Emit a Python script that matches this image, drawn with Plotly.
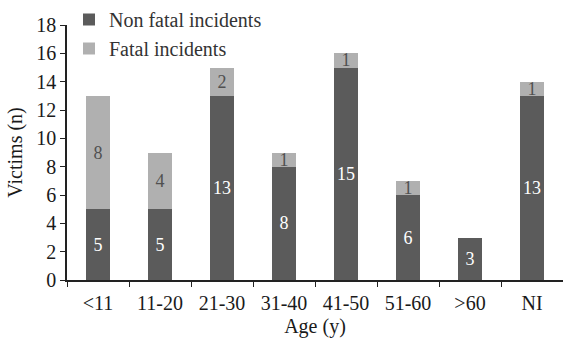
import plotly.graph_objects as go

categories = ["<11", "11-20", "21-30", "31-40", "41-50", "51-60", ">60", "NI"]
non_fatal = [5, 5, 13, 8, 15, 6, 3, 13]
fatal = [8, 4, 2, 1, 1, 1, 0, 1]
y_ticks = [0, 2, 4, 6, 8, 10, 12, 14, 16, 18]

dark = "#5b5b5b"
light = "#b0b0b0"
font_family = "Times New Roman"

fig = go.Figure()
fig.add_trace(go.Bar(
    x=categories, y=non_fatal, name="Non fatal incidents",
    marker=dict(color=dark, line=dict(width=0)),
    text=[str(v) for v in non_fatal], textposition="inside", textangle=0,
    insidetextanchor="middle", constraintext="none",
    textfont=dict(color="white", size=18, family=font_family),
))
fig.add_trace(go.Bar(
    x=categories, y=fatal, name="Fatal incidents",
    marker=dict(color=light, line=dict(width=0)),
    text=[str(v) if v else "" for v in fatal], textposition="inside", textangle=0,
    insidetextanchor="middle", constraintext="none",
    textfont=dict(color="#505050", size=18, family=font_family),
))

fig.update_layout(
    barmode="stack", bargap=0.61,
    width=563, height=344,
    margin=dict(l=67, r=0, t=20, b=64, pad=0),
    paper_bgcolor="white", plot_bgcolor="white",
    font=dict(family=font_family, size=20, color="#1a1a1a"),
    showlegend=True,
    legend=dict(x=0.004, y=1.1, xanchor="left", yanchor="top",
                bgcolor="rgba(0,0,0,0)", font=dict(size=20, color="#333333"),
                traceorder="normal", itemwidth=30, tracegroupgap=5),
    uniformtext=dict(mode=False),
)
fig.update_xaxes(
    showline=True, linecolor="#222222", linewidth=1.5,
    ticks="outside", tickson="boundaries", ticklen=5, tickcolor="#222222",
    ticklabelstandoff=4,
    title=dict(text="Age (y)", standoff=6, font=dict(size=20)),
    tickfont=dict(size=20), showgrid=False, automargin=False,
)
fig.update_yaxes(
    range=[0, 18], tickvals=y_ticks, showline=True, linecolor="#222222",
    linewidth=1.5, ticks="outside", ticklen=5, tickcolor="#222222",
    title=dict(text="Victims (n)", standoff=8, font=dict(size=20)),
    tickfont=dict(size=20), showgrid=False, zeroline=False, automargin=False,
)

fig.write_html("out.html",
               config={"displayModeBar": False},
               post_script="document.body.style.margin='0';document.body.style.overflow='hidden';")
